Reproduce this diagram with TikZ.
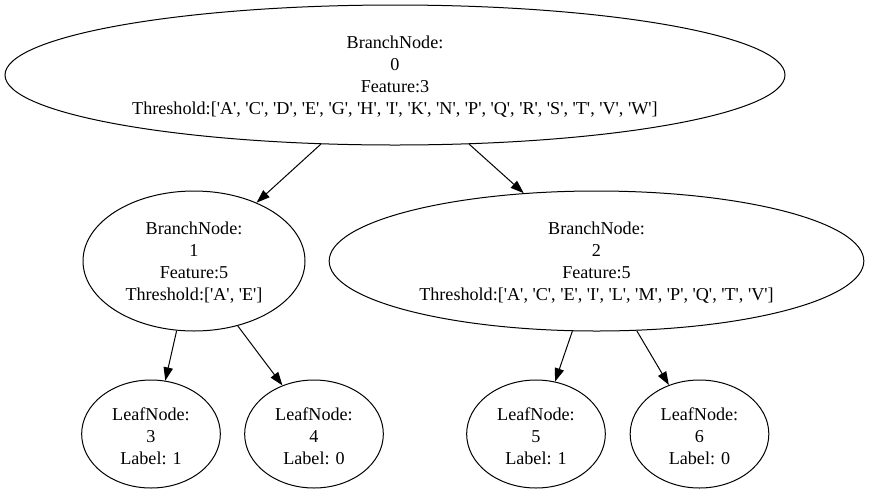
\documentclass[tikz,border=0pt]{standalone}
\usepackage{fontspec}
\setmainfont{Liberation Serif}[Ligatures=TeXOff]
\usepackage{tikz}
\usetikzlibrary{arrows.meta}
\usetikzlibrary{shapes.geometric}

\begin{document}
\begin{tikzpicture}[x=0.75pt, y=-0.75pt,
	treenode/.style={fill=white, draw=black, line width=0.75pt, shape=ellipse, inner sep=0pt},
	nodetext/.style={align=center, inner sep=0pt, yshift=-1.5pt, font=\fontsize{13.6}{16.5}\selectfont},
	branchnode/.style={treenode, minimum height=105pt},
	leafnode/.style={treenode, minimum width=104pt, minimum height=81pt},
	edge/.style={fill=none, line width=0.75pt, -{Triangle[length=10pt, width=7pt]}}]
	\useasboundingbox (0, 0) rectangle (869, 494);
	
	\node [branchnode, minimum width=585pt, label={[nodetext]center:BranchNode:\\0\\Feature:3\\Threshold:['A', 'C', 'D', 'E', 'G', 'H', 'I', 'K', 'N', 'P', 'Q', 'R', 'S', 'T', 'V', 'W']}] (0) at (395, 75) {};
	
	\node [branchnode, minimum width=166.5pt, label={[nodetext]center:BranchNode:\\1\\Feature:5\\Threshold:['A', 'E']}] (1) at (194, 261) {};
	\node [branchnode, minimum width=401pt, label={[nodetext]center:BranchNode:\\2\\Feature:5\\Threshold:['A', 'C', 'E', 'I', 'L', 'M', 'P', 'Q', 'T', 'V']}] (2) at (596.5, 261) {};
	
	\node [leafnode, label={[nodetext]center:LeafNode:\\3\\Label: 1}] (3) at (151, 434) {};
	\node [leafnode, label={[nodetext]center:LeafNode:\\4\\Label: 0}] (4) at (314, 434) {};
	\node [leafnode, label={[nodetext]center:LeafNode:\\5\\Label: 1}] (5) at (536, 434) {};
	\node [leafnode, label={[nodetext]center:LeafNode:\\6\\Label: 0}] (6) at (699.5, 434) {};
	
	\draw [edge] (0.223) to (1.43);
	\draw [edge] (0.317) to (2.137);
	
	\draw [edge] (1.256) to (3.75);
	\draw [edge] (1.304) to (4.123);
	
	\draw [edge] (2.251) to (5.70);
	\draw [edge] (2.300) to (6.122);
\end{tikzpicture}
\end{document}
